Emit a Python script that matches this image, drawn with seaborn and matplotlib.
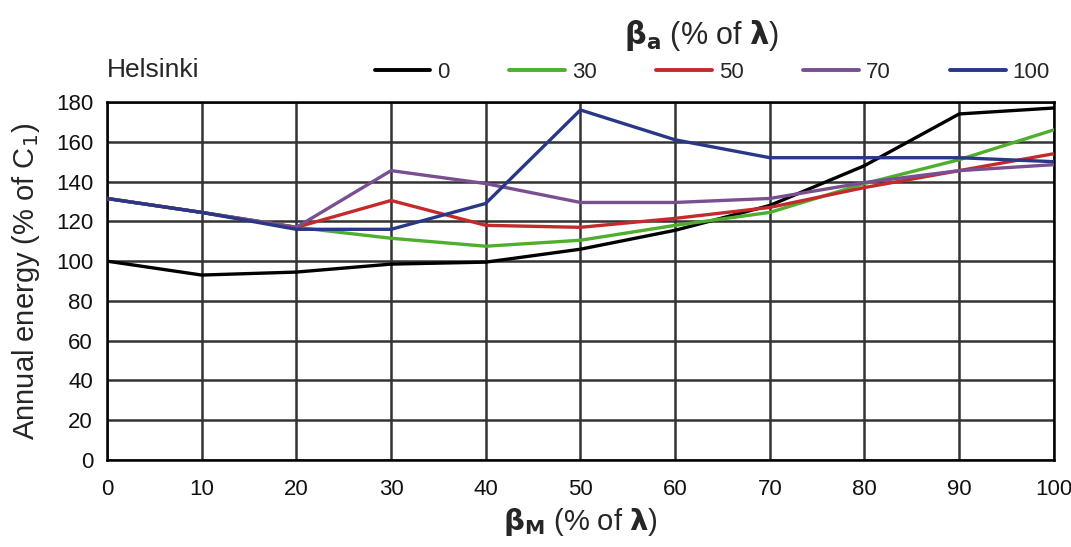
import numpy as np
import pandas as pd
import matplotlib
matplotlib.use('Agg')
import matplotlib.pyplot as plt
import seaborn as sns

# data
beta_m = [0, 10, 20, 30, 40, 50, 60, 70, 80, 90, 100]
beta_a_labels = ['0', '30', '50', '70', '100']
e_0 = [100, 93, 94.5, 98.5, 99.5, 106, 115.5, 128, 148, 174, 177]
e_30 = [131.5, 124.5, 117, 111.5, 107.5, 110.5, 118, 124.5, 139, 151, 166]
e_50 = [131.5, 124.5, 117, 130.5, 118, 117, 121.5, 127, 137, 145.5, 154]
e_70 = [131.5, 124.5, 117, 145.5, 139, 129.5, 129.5, 131.5, 139.5, 145.5, 148.5]
e_100 = [131.5, 124.5, 116, 116, 129, 176, 161, 152, 152, 152, 150]
colors = ['#000000', '#4fae2e', '#c42a2c', '#7a4f90', '#2a3786']

frames = []
for lab, vals in zip(beta_a_labels, [e_0, e_30, e_50, e_70, e_100]):
    frames.append(pd.DataFrame({'beta_m': beta_m, 'energy': vals, 'beta_a': lab}))
df = pd.concat(frames, ignore_index=True)

sns.set_style('white')
plt.rcParams['font.family'] = ['Liberation Sans', 'DejaVu Sans']
plt.rcParams['mathtext.fontset'] = 'dejavusans'

fig = plt.figure(figsize=(10.71, 5.47), dpi=100)
ax = fig.add_axes([0.0999, 0.159, 0.8841, 0.6545])

sns.lineplot(data=df, x='beta_m', y='energy', hue='beta_a', hue_order=beta_a_labels,
             palette=colors, linewidth=2.4, ax=ax, legend=False, zorder=3)

ax.set_xlim(0, 100)
ax.set_ylim(0, 180)
ax.set_xticks(beta_m)
ax.set_yticks(np.arange(0, 181, 20))
ax.grid(True, color='#333333', linewidth=1.8)
ax.set_axisbelow(True)
for s in ax.spines.values():
    s.set_color('black')
    s.set_linewidth(1.8)
ax.tick_params(axis='both', labelsize=16, length=0, colors='#111111')
ax.tick_params(axis='x', pad=14)
ax.tick_params(axis='y', pad=10)

ax.set_xlabel(r'$\mathbf{\beta_M}$ (% of $\mathbf{\lambda}$)', fontsize=21, labelpad=4)
ax.set_ylabel(r'Annual energy (% of C$_1$)', fontsize=21, labelpad=10)

# legend in one row above the plot
handles = [plt.Line2D([], [], color=c, linewidth=2.8) for c in colors]
fig.legend(handles, beta_a_labels, loc='center left', bbox_to_anchor=(0.35, 0.868),
           ncol=5, frameon=False, fontsize=16, handlelength=2.5, columnspacing=2.7,
           handletextpad=0.3, borderpad=0, borderaxespad=0)
fig.text(0.655, 0.935, r'$\mathbf{\beta_a}$ (% of $\mathbf{\lambda}$)', fontsize=22,
         ha='center', va='center')
fig.text(0.1, 0.872, 'Helsinki', fontsize=19, ha='left', va='center')

fig.savefig('out.png', dpi=100)
